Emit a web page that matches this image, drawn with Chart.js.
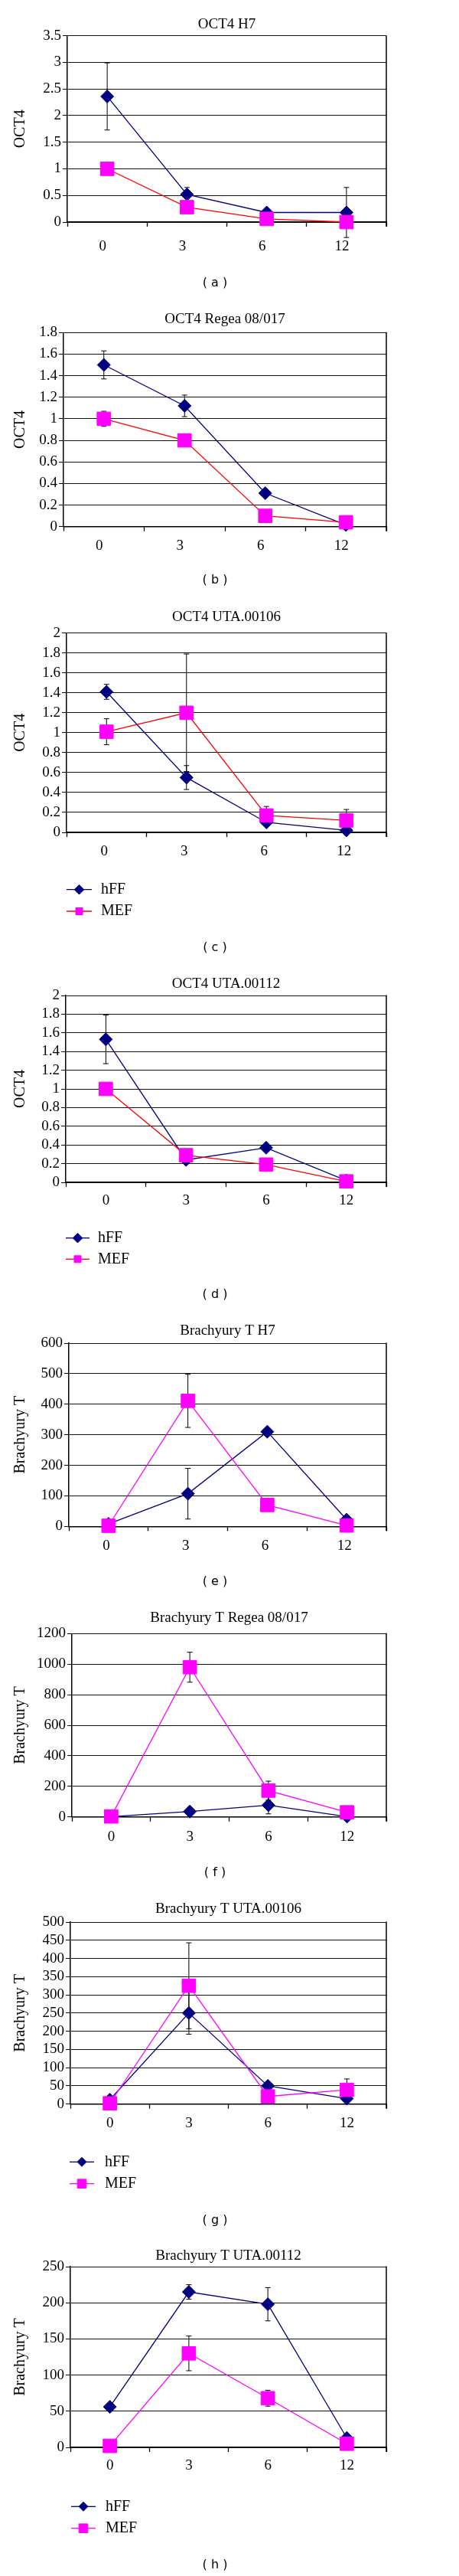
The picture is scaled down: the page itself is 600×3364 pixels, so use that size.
<!DOCTYPE html>
<html>
<head>
<meta charset="utf-8">
<script src="https://cdn.jsdelivr.net/npm/chart.js@4.4.1/dist/chart.umd.min.js"></script>
<style>
html, body { margin: 0; padding: 0; background: #fff; }
#page { position: relative; width: 600px; height: 3364px; background: #fff; overflow: hidden; }
#page canvas { position: absolute; left: 0; }
</style>
</head>
<body>
<div id="page"></div>
<script>
// x axis categories
const timePoints = ['0', '3', '6', '12'];
const seriesNames = ['hFF', 'MEF'];

// (a) OCT4 H7
const oct4H7Hff = [2.36, 0.52, 0.18, 0.18];
const oct4H7HffErr = [0.63, 0.13, 0, 0.47];
const oct4H7Mef = [1.0, 0.28, 0.06, 0.0];
const oct4H7MefErr = [0, 0, 0, 0];

// (b) OCT4 Regea 08/017
const oct4RegeaHff = [1.50, 1.12, 0.31, 0.015];
const oct4RegeaHffErr = [0.13, 0.10, 0, 0];
const oct4RegeaMef = [1.0, 0.80, 0.10, 0.04];
const oct4RegeaMefErr = [0.07, 0, 0, 0];

// (c) OCT4 UTA.00106
const oct4U106Hff = [1.41, 0.55, 0.10, 0.02];
const oct4U106HffErr = [0.075, 0.12, 0, 0];
const oct4U106Mef = [1.01, 1.20, 0.17, 0.12];
const oct4U106MefErr = [0.13, 0.59, 0.09, 0.11];

// (d) OCT4 UTA.00112
const oct4U112Hff = [1.53, 0.24, 0.37, 0.02];
const oct4U112HffErr = [0.26, 0, 0, 0];
const oct4U112Mef = [1.0, 0.29, 0.19, 0.01];
const oct4U112MefErr = [0, 0, 0, 0];

// (e) Brachyury T H7
const brachH7Hff = [8, 107, 310, 22];
const brachH7HffErr = [0, 83, 0, 0];
const brachH7Mef = [2, 411, 70, 3];
const brachH7MefErr = [0, 87, 0, 0];

// (f) Brachyury T Regea 08/017
const brachRegeaHff = [2, 35, 77, 2];
const brachRegeaHffErr = [0, 0, 57, 0];
const brachRegeaMef = [3, 980, 172, 30];
const brachRegeaMefErr = [0, 98, 62, 0];

// (g) Brachyury T UTA.00106
const brachU106Hff = [12, 250, 50, 15];
const brachU106HffErr = [0, 58, 0, 0];
const brachU106Mef = [2, 325, 21, 39];
const brachU106MefErr = [0, 118, 0, 30];

// (h) Brachyury T UTA.00112
const brachU112Hff = [56, 215, 198, 13];
const brachU112HffErr = [0, 10, 23, 0];
const brachU112Mef = [2, 130, 68, 5];
const brachU112MefErr = [0, 24, 11, 0];

const NAVY = '#000080';
const MAGENTA = '#ff00ff';
const RED = '#ff0000';
const SERIF = '"Liberation Serif", "Times New Roman", serif';

const panels = [
    { key: 'a', title: 'OCT4 H7', yTitle: 'OCT4', hff: oct4H7Hff, hffErr: oct4H7HffErr, mef: oct4H7Mef, mefErr: oct4H7MefErr, yMax: 3.5, yStep: 0.5, mefLine: RED },
    { key: 'b', title: 'OCT4 Regea 08/017', yTitle: 'OCT4', hff: oct4RegeaHff, hffErr: oct4RegeaHffErr, mef: oct4RegeaMef, mefErr: oct4RegeaMefErr, yMax: 1.8, yStep: 0.2, mefLine: RED },
    { key: 'c', title: 'OCT4 UTA.00106', yTitle: 'OCT4', hff: oct4U106Hff, hffErr: oct4U106HffErr, mef: oct4U106Mef, mefErr: oct4U106MefErr, yMax: 2, yStep: 0.2, mefLine: RED },
    { key: 'd', title: 'OCT4 UTA.00112', yTitle: 'OCT4', hff: oct4U112Hff, hffErr: oct4U112HffErr, mef: oct4U112Mef, mefErr: oct4U112MefErr, yMax: 2, yStep: 0.2, mefLine: RED },
    { key: 'e', title: 'Brachyury T H7', yTitle: 'Brachyury T', hff: brachH7Hff, hffErr: brachH7HffErr, mef: brachH7Mef, mefErr: brachH7MefErr, yMax: 600, yStep: 100, mefLine: MAGENTA },
    { key: 'f', title: 'Brachyury T Regea 08/017', yTitle: 'Brachyury T', hff: brachRegeaHff, hffErr: brachRegeaHffErr, mef: brachRegeaMef, mefErr: brachRegeaMefErr, yMax: 1200, yStep: 200, mefLine: MAGENTA },
    { key: 'g', title: 'Brachyury T UTA.00106', yTitle: 'Brachyury T', hff: brachU106Hff, hffErr: brachU106HffErr, mef: brachU106Mef, mefErr: brachU106MefErr, yMax: 500, yStep: 50, mefLine: MAGENTA },
    { key: 'h', title: 'Brachyury T UTA.00112', yTitle: 'Brachyury T', hff: brachU112Hff, hffErr: brachU112HffErr, mef: brachU112Mef, mefErr: brachU112MefErr, yMax: 250, yStep: 50, mefLine: MAGENTA },
];

// page layout of each panel (page pixels)
const frames = {
    a: { top: 0, bottom: 393, plotTop: 46.7, plotBottom: 290, plotLeft: 88, titleY: 32, labelPad: 15, labelShift: -6, captionY: 370 },
    b: { top: 393, bottom: 782, plotTop: 434.3, plotBottom: 687.7, plotLeft: 83, titleY: 416.7, labelPad: 8, labelShift: -6, captionY: 758.3 },
    c: { top: 782, bottom: 1262, plotTop: 826.7, plotBottom: 1087, plotLeft: 87, titleY: 805.7, labelPad: 8, labelShift: -3, captionY: 1238,
         legend: { y: [1161.7, 1190], x0: 87, x1: 120, textX: 132, diamond: 6.3, square: 4.5 } },
    d: { top: 1262, bottom: 1714, plotTop: 1300, plotBottom: 1544, plotLeft: 86, titleY: 1285, labelPad: 7, labelShift: 0, captionY: 1690.7,
         legend: { y: [1616.7, 1644.3], x0: 86, x1: 117, textX: 128, diamond: 6.3, square: 4.5 } },
    e: { top: 1714, bottom: 2090, plotTop: 1754, plotBottom: 1993.3, plotLeft: 90, titleY: 1738.3, labelPad: 8, labelShift: -3, captionY: 2065.7 },
    f: { top: 2090, bottom: 2470, plotTop: 2133.3, plotBottom: 2372.7, plotLeft: 94, titleY: 2113.3, labelPad: 9, labelShift: 0, captionY: 2446 },
    g: { top: 2470, bottom: 2923, plotTop: 2510, plotBottom: 2747.7, plotLeft: 92, titleY: 2492.7, labelPad: 8, labelShift: 0, captionY: 2900,
         legend: { y: [2823.3, 2851.7], x0: 91, x1: 123, textX: 137, diamond: 6, square: 5.8 } },
    h: { top: 2923, bottom: 3364, plotTop: 2960, plotBottom: 3196, plotLeft: 92, titleY: 2946, labelPad: 7, labelShift: 0, captionY: 3350,
         legend: { y: [3273.3, 3301.7], x0: 93, x1: 125, textX: 138, diamond: 6, square: 5.8 } },
};

const X_AXIS_H = 45;

// vertical error bars with caps, drawn under the markers
function errorBarPlugin() {
    return {
        id: 'errorBars',
        beforeDatasetsDraw(chart) {
            const { ctx, scales: { y } } = chart;
            ctx.save();
            ctx.strokeStyle = '#000';
            ctx.lineWidth = 1;
            chart.data.datasets.forEach((ds, i) => {
                const meta = chart.getDatasetMeta(i);
                ds.errors.forEach((e, j) => {
                    if (!e) return;
                    const px = meta.data[j].x;
                    const hi = y.getPixelForValue(ds.data[j] + e);
                    const lo = y.getPixelForValue(ds.data[j] - e);
                    ctx.beginPath();
                    ctx.moveTo(px, hi); ctx.lineTo(px, lo);
                    ctx.moveTo(px - 3.5, hi); ctx.lineTo(px + 3.5, hi);
                    ctx.moveTo(px - 3.5, lo); ctx.lineTo(px + 3.5, lo);
                    ctx.stroke();
                });
            });
            ctx.restore();
        }
    };
}

// title, frame edge, legend and caption
function decorPlugin(p, f) {
    return {
        id: 'decor',
        afterDraw(chart) {
            const { ctx, chartArea: a } = chart;
            ctx.save();
            ctx.strokeStyle = '#000';
            ctx.lineWidth = 1.5;
            ctx.beginPath();
            ctx.moveTo(a.right, a.top - 0.5);
            ctx.lineTo(a.right, a.bottom + 6);
            ctx.stroke();

            ctx.fillStyle = '#000';
            ctx.textBaseline = 'middle';
            ctx.textAlign = 'center';
            ctx.font = '19px ' + SERIF;
            ctx.fillText(p.title, (a.left + a.right) / 2, f.titleY - f.top);

            if (f.legend) {
                const L = f.legend;
                const styles = [
                    { line: NAVY, fill: NAVY, pointStyle: 'rectRot', radius: L.diamond },
                    { line: p.mefLine, fill: MAGENTA, pointStyle: 'rect', radius: L.square / Math.SQRT1_2 },
                ];
                seriesNames.forEach((name, i) => {
                    const yy = L.y[i] - f.top;
                    const st = styles[i];
                    ctx.strokeStyle = st.line;
                    ctx.lineWidth = 1.3;
                    ctx.beginPath();
                    ctx.moveTo(L.x0, yy); ctx.lineTo(L.x1, yy);
                    ctx.stroke();
                    ctx.fillStyle = st.fill;
                    ctx.strokeStyle = st.fill;
                    ctx.lineWidth = 1;
                    Chart.helpers.drawPoint(ctx, { pointStyle: st.pointStyle, radius: st.radius, rotation: 0, borderWidth: 1 }, (L.x0 + L.x1) / 2, yy);
                    ctx.fillStyle = '#000';
                    ctx.textAlign = 'left';
                    ctx.font = '20px ' + SERIF;
                    ctx.fillText(name, L.textX, yy);
                });
            }

            ctx.fillStyle = '#000';
            ctx.textAlign = 'center';
            ctx.font = '16px "DejaVu Sans", sans-serif';
            ctx.fillText('( ' + p.key + ' )', 281, f.captionY - f.top);
            ctx.restore();
        }
    };
}

function buildPanel(p) {
    const f = frames[p.key];
    const h = f.bottom - f.top;
    const canvas = document.createElement('canvas');
    canvas.width = 600;
    canvas.height = h;
    canvas.style.top = f.top + 'px';
    document.getElementById('page').appendChild(canvas);

    const padTop = f.plotTop - f.top;
    const padBottom = h - (f.plotBottom - f.top) - X_AXIS_H;

    return new Chart(canvas, {
        type: 'line',
        data: {
            labels: timePoints,
            datasets: [
                {
                    label: seriesNames[0],
                    data: p.hff,
                    errors: p.hffErr,
                    borderColor: NAVY,
                    backgroundColor: NAVY,
                    borderWidth: 1.3,
                    pointStyle: 'rectRot',
                    pointRadius: 8.5,
                    pointHoverRadius: 8.5,
                    pointBackgroundColor: NAVY,
                    pointBorderColor: NAVY,
                    pointBorderWidth: 1,
                    tension: 0,
                    clip: false,
                    order: 1,
                },
                {
                    label: seriesNames[1],
                    data: p.mef,
                    errors: p.mefErr,
                    borderColor: p.mefLine,
                    backgroundColor: MAGENTA,
                    borderWidth: 1.3,
                    pointStyle: 'rect',
                    pointRadius: 12.5,
                    pointHoverRadius: 12.5,
                    pointBackgroundColor: MAGENTA,
                    pointBorderColor: MAGENTA,
                    pointBorderWidth: 1,
                    tension: 0,
                    clip: false,
                    order: 0,
                },
            ],
        },
        options: {
            responsive: false,
            animation: false,
            events: [],
            layout: { autoPadding: false, padding: { top: padTop, bottom: padBottom, left: 0, right: 600 - 505 } },
            plugins: {
                legend: { display: false },
                title: { display: false },
                tooltip: { enabled: false },
            },
            scales: {
                x: {
                    type: 'category',
                    offset: true,
                    grid: { offset: true, drawOnChartArea: false, drawTicks: true, tickLength: 6, color: '#000', tickColor: '#000', tickWidth: 1.3 },
                    border: { display: true, color: '#000', width: 1.5 },
                    ticks: { color: '#000', font: { family: SERIF, size: 19 }, padding: f.labelPad, labelOffset: f.labelShift, maxRotation: 0 },
                    afterFit: (s) => { s.height = X_AXIS_H; },
                },
                y: {
                    min: 0,
                    max: p.yMax,
                    grid: { color: '#111', lineWidth: 1, drawTicks: true, tickLength: 6, tickColor: '#000' },
                    border: { display: true, color: '#000', width: 1.5 },
                    ticks: {
                        stepSize: p.yStep,
                        autoSkip: false,
                        color: '#000',
                        padding: 2,
                        font: { family: SERIF, size: 19 },
                        callback: (v) => String(Math.round(v * 100) / 100),
                    },
                    title: { display: true, text: p.yTitle, color: '#000', font: { family: SERIF, size: 20 }, padding: { top: 15, bottom: 0 } },
                    afterFit: (s) => { s.width = f.plotLeft; },
                },
            },
        },
        plugins: [errorBarPlugin(), decorPlugin(p, f)],
    });
}

panels.forEach(buildPanel);
</script>
</body>
</html>
